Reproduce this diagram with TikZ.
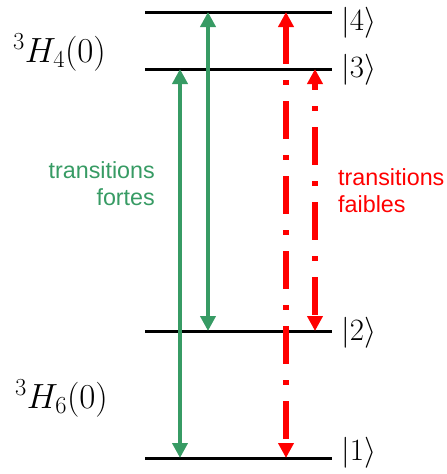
\RequirePackage{fix-cm}
\documentclass[tikz,border=0pt]{standalone}
\usepackage{fontspec}
\usepackage{tikz}
\usetikzlibrary{arrows.meta, positioning, calc}
\newfontfamily\legendfont{Liberation Sans}
\definecolor{vert}{RGB}{55,155,100}
\definecolor{rouge}{RGB}{255,0,0}
\tikzstyle{niveau} = [line width=3pt, black]
\tikzstyle{forte} = [line width=4.5pt, vert, {Triangle[length=15pt,width=15pt]}-{Triangle[length=15pt,width=15pt]}]
\tikzstyle{faible} = [line width=5.5pt, rouge, dash pattern=on 38pt off 16pt on 5pt off 16pt, {Triangle[length=15pt,width=15pt]}-{Triangle[length=15pt,width=15pt]}]
\tikzstyle{ket} = [inner sep=0pt, anchor=west, font=\fontsize{31}{33}\selectfont]
\tikzstyle{terme} = [inner sep=0pt, anchor=base west, font=\fontsize{35}{38}\selectfont]
\tikzstyle{legende} = [inner sep=0pt, font=\legendfont\fontsize{23.3}{27}\selectfont]

\begin{document}
\begin{tikzpicture}[x=1pt, y=-1pt]
    \useasboundingbox (0,0) rectangle (447,474);

    % Niveaux
    \coordinate (n4) at (145,12);
    \coordinate (n3) at (145,69);
    \coordinate (n2) at (145,331);
    \coordinate (n1) at (145,458);
    \foreach \n in {1,...,4}
        \draw [niveau] (n\n) -- ++(187,0);

    % Kets
    \node (k4) [ket] at (341,23) {$|4\rangle$};
    \node (k3) [ket] at (341,70) {$|3\rangle$};
    \node (k2) [ket] at (341,333) {$|2\rangle$};
    \node (k1) [ket] at (341,453) {$|1\rangle$};

    % Termes
    \node (h4) [terme] at (13,62) {$^3H_4(0)$};
    \node (h6) [terme] at (15,408) {$^3H_6(0)$};

    % Positions des transitions
    \coordinate (g1) at (180,0);
    \coordinate (g2) at (208,0);
    \coordinate (r1) at (286,0);
    \coordinate (r2) at (315,0);

    % Flèches
    \draw [forte] (g1 |- n3) -- (g1 |- n1);
    \draw [forte] (g2 |- n4) -- (g2 |- n2);
    \draw [faible] (r1 |- n4) -- (r1 |- n1);
    \draw [faible, dash phase=31pt] (r2 |- n3) -- (r2 |- n2);

    % Légendes
    \node (fortes) [legende, vert, align=right, anchor=east] at (155,184) {transitions\\fortes};
    \node (faibles) [legende, rouge, align=left, anchor=west] at (338,191) {transitions\\faibles};
\end{tikzpicture}
\end{document}
